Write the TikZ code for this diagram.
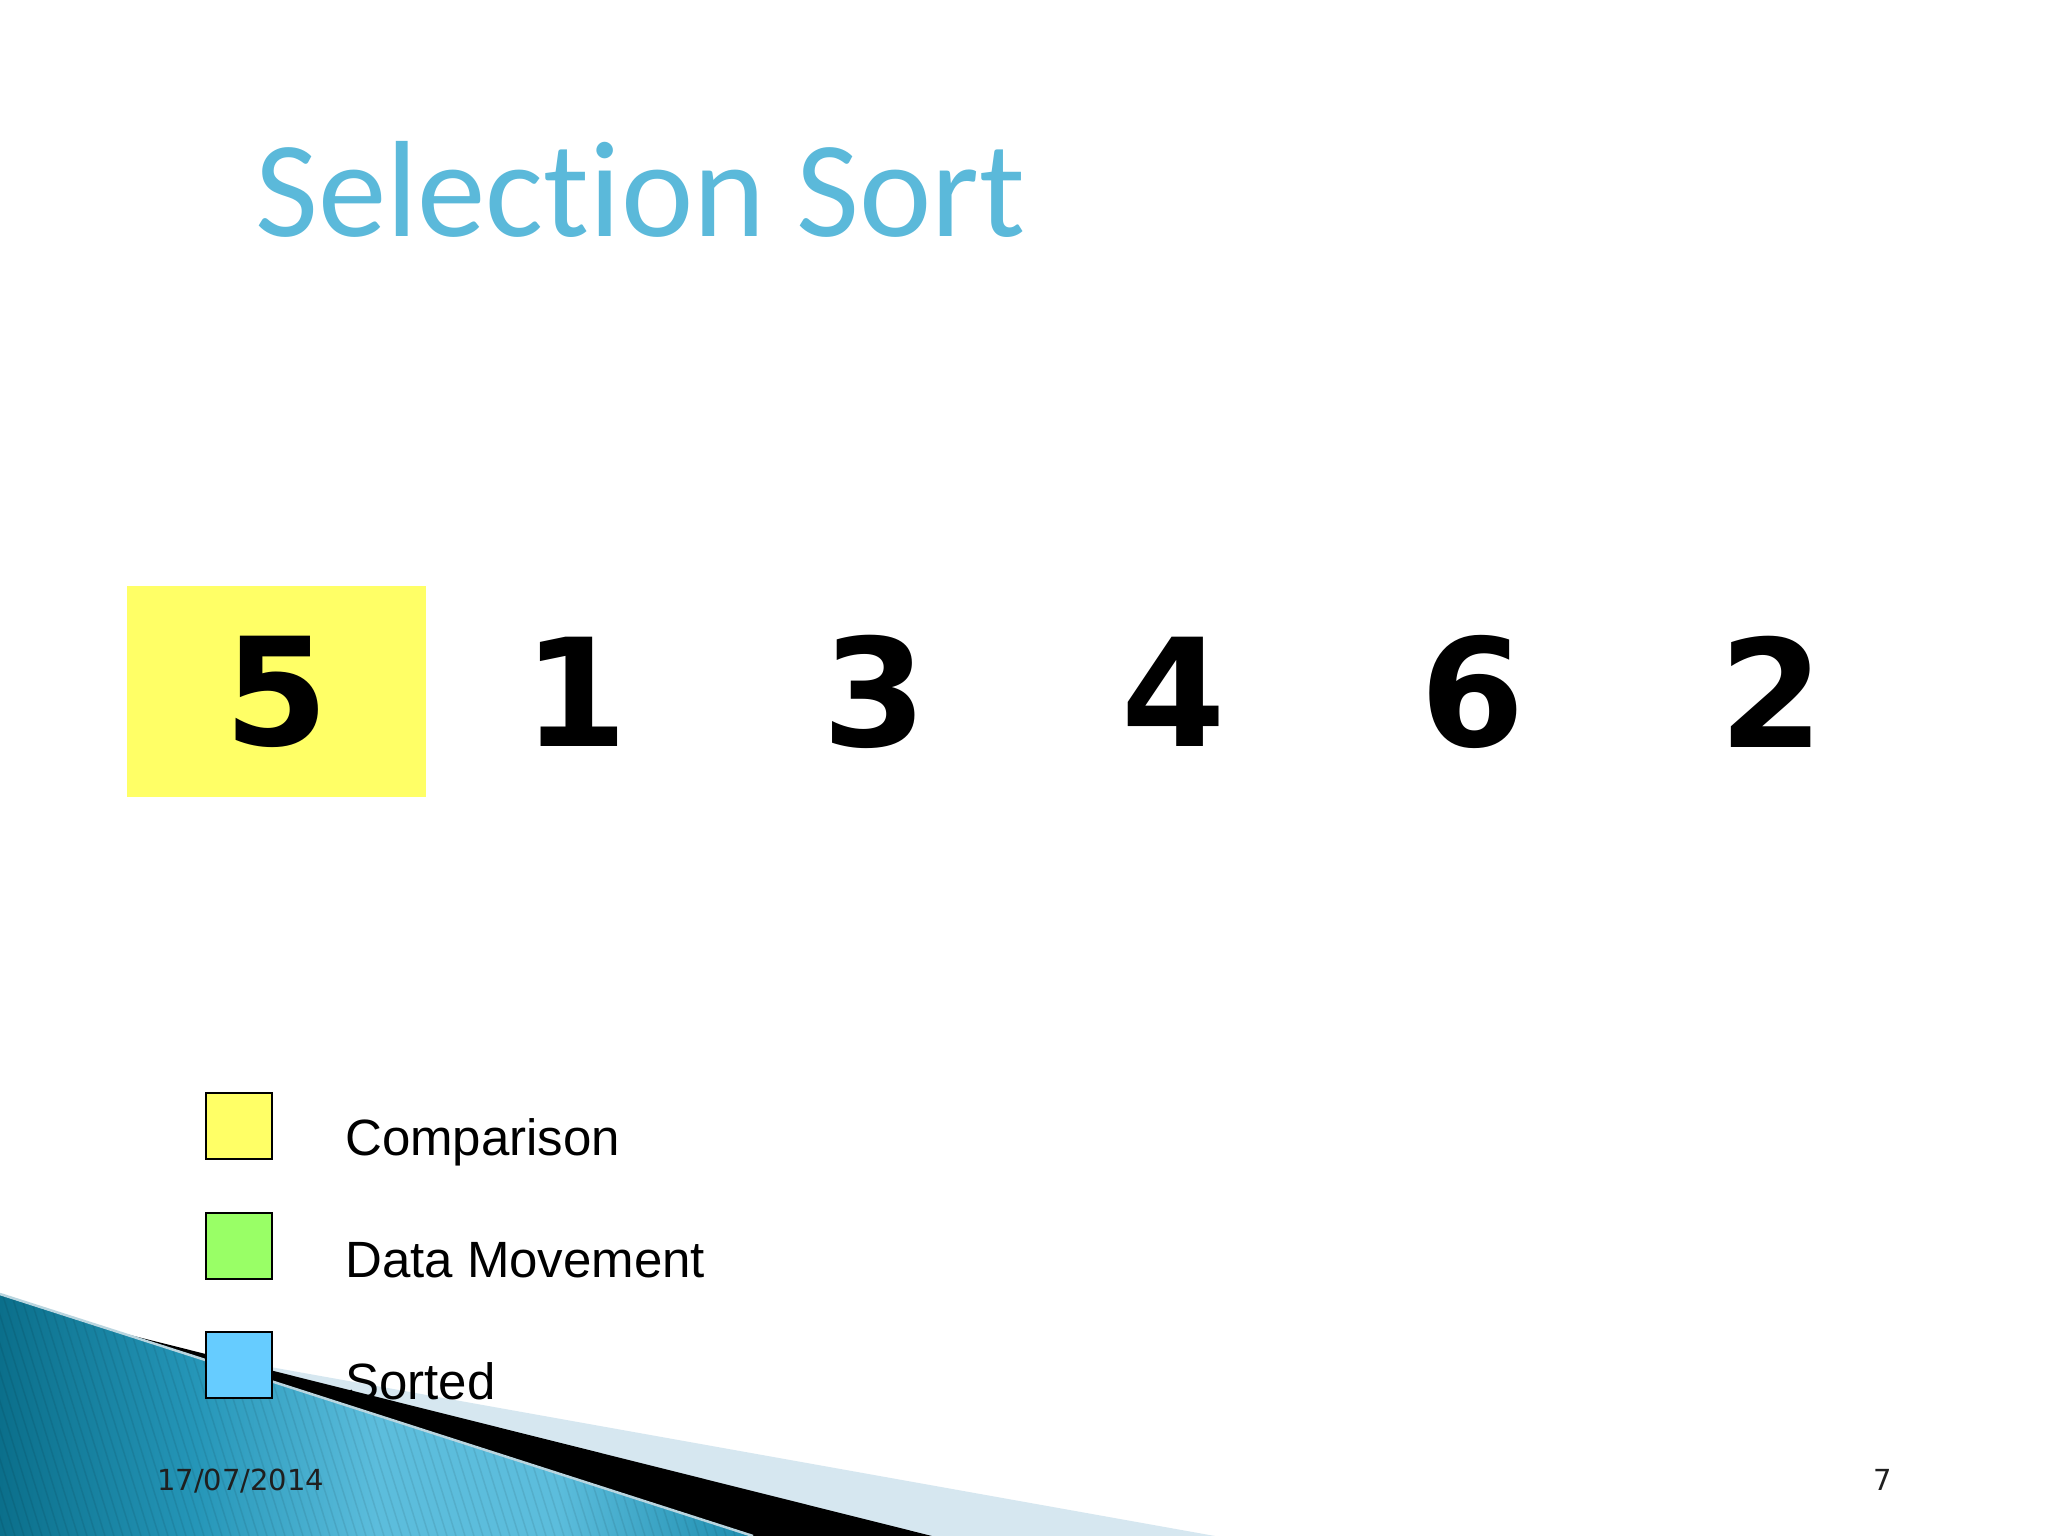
\documentclass[tikz,border=0pt]{standalone}
\usepackage{fontspec}
\setmainfont{DejaVu Sans}
\newfontfamily\titlefont{Carlito}[Ligatures={NoCommon}]
\newfontfamily\legendfont{Liberation Sans}
\definecolor{titleblue}{HTML}{5BB9DA}
\definecolor{cmpyellow}{HTML}{FFFF66}
\definecolor{movegreen}{HTML}{99FF66}
\definecolor{sortblue}{HTML}{66CCFF}
\definecolor{paleband}{HTML}{D6E7F0}
\definecolor{tealdark}{HTML}{0B6F8B}
\definecolor{tealmid}{HTML}{2596B8}
\definecolor{teallight}{HTML}{5CBDDC}
\definecolor{tealmidb}{HTML}{1C8CAE}
\definecolor{edgehi}{HTML}{B9D5DF}
\pgfdeclarehorizontalshading{tealshade}{100bp}{color(0bp)=(tealdark); color(25bp)=(tealdark); color(38bp)=(tealmid); color(50bp)=(teallight); color(62bp)=(teallight); color(75bp)=(tealmidb); color(100bp)=(tealmidb)}
\tikzset{
  cell/.style={minimum width=299pt, minimum height=211pt, inner sep=0pt,
    font=\bfseries\fontsize{150}{180}\selectfont, text=black},
  legbox/.style={draw=black, line width=2.5pt, minimum size=66pt, inner sep=0pt},
  legtext/.style={anchor=base west, inner sep=0pt, text=black,
    font=\legendfont\fontsize{51}{60}\selectfont},
  foot/.style={inner sep=0pt, text=black!88, font=\fontsize{29}{34}\selectfont}
}
\begin{document}
\begin{tikzpicture}[x=1pt,y=-1pt]
\useasboundingbox (0,0) rectangle (2048,1536);
\fill[white] (0,0) rectangle (2048,1536);

% bottom-left decoration
\fill[paleband] (220,1358) -- (1215,1536) -- (930,1536) -- cycle;
\fill[black] (110,1330) -- (932,1536) -- (753,1536) -- cycle;
\shade[shading=tealshade] (0,1295) -- (753,1536) -- (0,1536) -- cycle;
\begin{scope}
  \clip (0,1295) -- (753,1536) -- (0,1536) -- cycle;
  \foreach \i in {-200,-191,...,800}
    \draw[black, opacity=0.08, line width=1.5pt] (\i,1280) -- ++(80,256);
\end{scope}
\draw[edgehi, line width=2.5pt] (0,1294) -- (753,1536);

% title
\node[anchor=base west, inner sep=0pt, text=titleblue,
  font=\titlefont\fontsize{137}{160}\selectfont] (title) at (255,236) {Selection Sort};

% array cells
\node[cell, fill=cmpyellow] (c1) at (276.5,691.5) {5};
\node[cell] (c2) at (575.5,691.5) {1};
\node[cell] (c3) at (874.5,691.5) {3};
\node[cell] (c4) at (1173.5,691.5) {4};
\node[cell] (c5) at (1472.5,691.5) {6};
\node[cell] (c6) at (1771.5,691.5) {2};

% legend
\node[legbox, fill=cmpyellow] (l1) at (239,1126) {};
\node[legbox, fill=movegreen] (l2) at (239,1246) {};
\node[legbox, fill=sortblue] (l3) at (239,1365) {};
\node[legtext] (t1) at (345,1155) {Comparison};
\node[legtext] (t2) at (345,1277) {Data Movement};
\node[legtext] (t3) at (345,1399) {Sorted};

% footer
\node[foot, anchor=base west] (date) at (157,1490) {17/07/2014};
\node[foot, anchor=base] (page) at (1883,1490) {7};
\end{tikzpicture}
\end{document}
